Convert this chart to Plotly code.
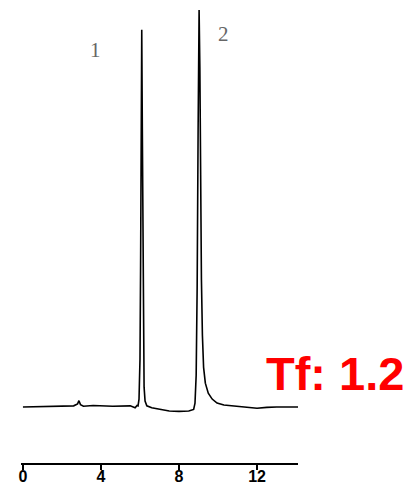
import plotly.graph_objects as go

# chromatogram: time (min) and detector signal (arbitrary units)
time_min = [0.0, 1.5, 2.6, 2.8, 2.87, 2.95, 3.1, 3.6, 4.6, 5.5, 5.75, 5.85,
            5.90, 5.95, 6.00, 6.03, 6.06, 6.09, 6.12, 6.15, 6.18, 6.21, 6.26, 6.35,
            6.6, 7.0, 7.5, 8.0, 8.5, 8.75,
            8.82, 8.88, 8.93, 8.98, 9.03, 9.07, 9.11, 9.15, 9.20, 9.26, 9.35, 9.5,
            9.7, 9.95, 10.3, 11.0, 11.5, 12.0, 12.5, 13.0, 14.1]
signal = [0.0, 0.1, 0.3, 0.8, 1.6, 0.6, 0.2, 0.4, 0.2, 0.3, -0.2, 0.4,
          0.3, 2, 12, 35, 75, 95, 70, 35, 14, 5, 1.5, 0.3,
          -0.2, -0.6, -1.0, -1.1, -1.0, -0.6,
          1, 8, 30, 70, 100, 85, 55, 32, 18, 10, 6, 3.5,
          2, 1, 0.5, 0.2, -0.2, -0.3, -0.1, 0.0, 0.0]

peak_labels = ["1", "2"]
peak_label_x = [3.7, 10.3]
peak_label_y = [90.0, 94.0]

x_ticks = [0, 4, 8, 12]

fig = go.Figure()
fig.add_trace(go.Scatter(x=time_min, y=signal, mode="lines",
                         line=dict(color="black", width=1.6), showlegend=False))

for lab, lx, ly in zip(peak_labels, peak_label_x, peak_label_y):
    fig.add_annotation(x=lx, y=ly, text=lab, showarrow=False,
                       font=dict(family="Liberation Serif", size=21, color="#666666"))

fig.add_annotation(x=1.134, y=0.197, xref="paper", yref="paper",
                   xanchor="center", yanchor="middle",
                   text="<b>Tf: 1.2</b>", showarrow=False,
                   font=dict(family="Liberation Sans", size=47, color="#ff0000"))

# page body has an 8px margin, so the figure is 8px smaller than the window
fig.update_layout(
    width=403, height=478,
    margin=dict(l=13, r=113, t=2, b=23),
    paper_bgcolor="white", plot_bgcolor="white",
    xaxis=dict(range=[-0.1, 14.1], tickvals=x_ticks, ticktext=[str(t) for t in x_ticks],
               automargin=False,
               showgrid=False, zeroline=False, showline=True, linecolor="black",
               linewidth=1.5, ticks="outside", ticklen=5, tickwidth=1.5,
               tickcolor="black", ticklabelstandoff=-7,
               tickfont=dict(family="Liberation Sans", size=16, color="black",
                             weight="bold")),
    yaxis=dict(range=[-14.1, 100], visible=False),
)

fig.write_html("out.html")
